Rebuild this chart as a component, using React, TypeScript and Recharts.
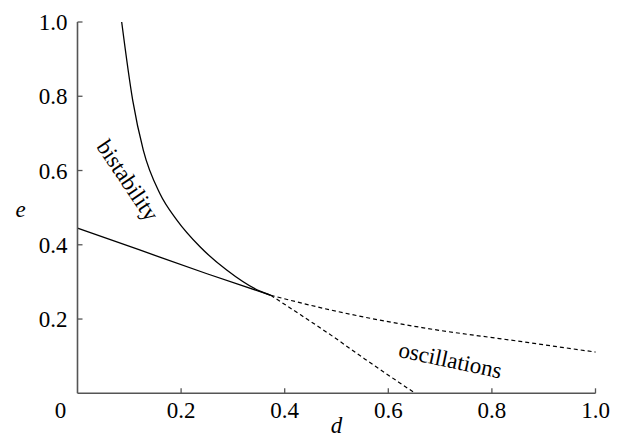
import React from "react";
import { ComposedChart, Line, XAxis, YAxis, ReferenceDot } from "recharts";

// Axis ticks
const xTickValues = [0, 0.2, 0.4, 0.6, 0.8, 1.0];
const xTickLabels = ["0", "0.2", "0.4", "0.6", "0.8", "1.0"];
const yTickValues = [0.2, 0.4, 0.6, 0.8, 1.0];
const yTickLabels = ["0.2", "0.4", "0.6", "0.8", "1.0"];

// Lower boundary: solid part then dashed part
const lowerSolidD = [0, 0.12, 0.25, 0.373];
const lowerSolidE = [0.445, 0.386, 0.322, 0.264];
const lowerDashedD = [0.373, 0.49, 0.665, 0.848, 1.0];
const lowerDashedE = [0.264, 0.224, 0.177, 0.141, 0.111];

// Upper boundary: solid part then dashed part
const upperSolidD = [0.0853, 0.1066, 0.127, 0.159, 0.1915, 0.2365, 0.288, 0.3523, 0.373];
const upperSolidE = [1.0, 0.789, 0.655, 0.538, 0.467, 0.3945, 0.332, 0.275, 0.264];
const upperDashedD = [0.373, 0.43, 0.49, 0.555, 0.62, 0.652];
const upperDashedE = [0.264, 0.212, 0.156, 0.092, 0.03, 0.0];

// Annotations
const regionLabels = ["bistability", "oscillations"];
const regionLabelD = [0.0946, 0.719];
const regionLabelE = [0.571, 0.085];
const regionLabelAngle = [56, 12];

const toPts = (ds: number[], es: number[]) => ds.map((d, i) => ({ d, e: es[i] }));

const FONT = "Liberation Serif";
const AXIS_COLOR = "#555";

const XTick = (props: any) => {
  const { x, y, payload } = props;
  const idx = xTickValues.indexOf(payload.value);
  const label = idx >= 0 ? xTickLabels[idx] : String(payload.value);
  const isZero = payload.value === 0;
  return (
    <g>
      {!isZero && <line x1={x} x2={x} y1={y} y2={y - 5} stroke={AXIS_COLOR} strokeWidth={1.3} />}
      <text x={isZero ? x - 17 : x} y={y + 25} textAnchor="middle" fontFamily={FONT} fontSize={23} fill="#000">
        {label}
      </text>
    </g>
  );
};

const YTick = (props: any) => {
  const { x, y, payload } = props;
  const idx = yTickValues.indexOf(payload.value);
  const label = idx >= 0 ? yTickLabels[idx] : String(payload.value);
  return (
    <g>
      <line x1={x} x2={x + 5} y1={y} y2={y} stroke={AXIS_COLOR} strokeWidth={1.3} />
      <text x={x - 10} y={y + 8} textAnchor="end" fontFamily={FONT} fontSize={23} fill="#000">
        {label}
      </text>
    </g>
  );
};

const makeRegionLabel = (i: number) => (props: any) => {
  const vb = props.viewBox || {};
  const cx = (vb.x ?? 0) + (vb.width ?? 0) / 2;
  const cy = (vb.y ?? 0) + (vb.height ?? 0) / 2;
  return (
    <g transform={`translate(${cx},${cy}) rotate(${regionLabelAngle[i]})`}>
      <text x={0} y={6} textAnchor="middle" fontFamily={FONT} fontSize={23} fill="#000">
        {regionLabels[i]}
      </text>
    </g>
  );
};

const XLabel = (props: any) => {
  const vb = props.viewBox || {};
  return (
    <text x={vb.x + vb.width / 2} y={vb.y + 40} textAnchor="middle" fontFamily={FONT} fontStyle="italic" fontSize={23} fill="#000">
      d
    </text>
  );
};

const YLabel = (props: any) => {
  const vb = props.viewBox || {};
  return (
    <text x={vb.x + 3} y={vb.y + vb.height / 2 + 9} textAnchor="middle" fontFamily={FONT} fontStyle="italic" fontSize={23} fill="#000">
      e
    </text>
  );
};

export default function App() {
  return (
    <div style={{ position: "absolute", left: 0, top: 0, width: 623, height: 439, background: "#fff" }}>
      <ComposedChart width={623} height={439} margin={{ top: 22, right: 27.5, bottom: 15.7, left: 17.5 }}>
        <XAxis
          type="number"
          dataKey="d"
          domain={[0, 1]}
          ticks={xTickValues}
          tick={<XTick />}
          tickLine={false}
          tickSize={0}
          tickMargin={0}
          height={30}
          axisLine={{ stroke: AXIS_COLOR, strokeWidth: 1.6 }}
          label={<XLabel />}
          interval={0}
        />
        <YAxis
          type="number"
          dataKey="e"
          domain={[0, 1]}
          ticks={yTickValues}
          tick={<YTick />}
          tickLine={false}
          tickSize={0}
          tickMargin={0}
          width={60}
          axisLine={{ stroke: AXIS_COLOR, strokeWidth: 1.6 }}
          label={<YLabel />}
          interval={0}
        />
        <Line data={toPts(lowerSolidD, lowerSolidE)} dataKey="e" type="monotone" stroke="#000" strokeWidth={1.3} dot={false} isAnimationActive={false} />
        <Line data={toPts(lowerDashedD, lowerDashedE)} dataKey="e" type="monotone" stroke="#000" strokeWidth={1.2} strokeDasharray="4 3" dot={false} isAnimationActive={false} />
        <Line data={toPts(upperSolidD, upperSolidE)} dataKey="e" type="monotone" stroke="#000" strokeWidth={1.3} dot={false} isAnimationActive={false} />
        <Line data={toPts(upperDashedD, upperDashedE)} dataKey="e" type="monotone" stroke="#000" strokeWidth={1.2} strokeDasharray="4 3" dot={false} isAnimationActive={false} />
        {regionLabels.map((_, i) => (
          <ReferenceDot key={i} x={regionLabelD[i]} y={regionLabelE[i]} r={0} fill="none" stroke="none" label={makeRegionLabel(i)} />
        ))}
      </ComposedChart>
    </div>
  );
}
